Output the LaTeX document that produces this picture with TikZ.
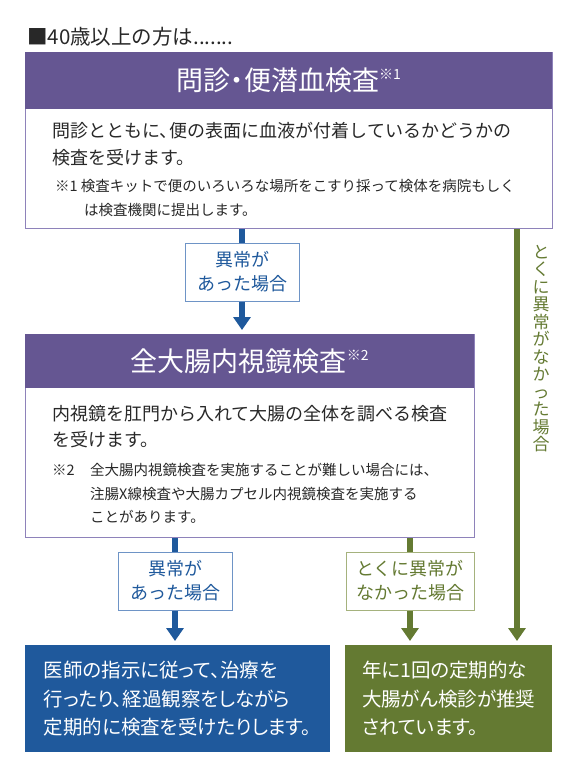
\documentclass[tikz,border=0pt]{standalone}
\usepackage{fontspec}
\setmainfont{Noto Sans CJK JP}
\newfontfamily\proptext[RawFeature=+palt]{Noto Sans CJK JP}
\usetikzlibrary{arrows.meta,positioning}
\definecolor{bandpurple}{RGB}{101,86,146}
\definecolor{framepurple}{RGB}{142,130,186}
\definecolor{flowblue}{RGB}{31,89,156}
\definecolor{flowgreen}{RGB}{100,122,50}
\definecolor{tagblue}{RGB}{110,148,198}
\definecolor{taggreen}{RGB}{165,178,125}
\definecolor{inkgray}{RGB}{40,40,40}
\newcommand\kome[1]{\raisebox{11pt}{\fontsize{14}{14}\selectfont ※#1}}
\newcommand\tenn{、\kern-0.45em}
\newcommand\nakaten{\kern-0.25em・\kern-0.25em}

\begin{document}
\begin{tikzpicture}[x=1pt,y=-1pt,>={Triangle[width=17pt,length=13pt]},
  band/.style={fill=bandpurple,text=white,inner sep=0pt,anchor=north west,font=\fontsize{27}{27}\selectfont},
  panel/.style={draw=framepurple,line width=1pt,fill=white,inner sep=0pt,anchor=north west},
  body/.style={text=inkgray,align=left,anchor=west,inner sep=0pt,font=\fontsize{18}{26.5}\selectfont},
  note/.style={text=inkgray,align=left,anchor=west,inner sep=0pt,font=\fontsize{14.5}{23.5}\selectfont},
  tag/.style={fill=white,line width=1pt,align=center,minimum height=58pt,font=\fontsize{18}{24}\selectfont},
  result/.style={text=white,align=left,inner sep=0pt,anchor=north west,minimum height=107pt,font=\proptext\fontsize{19.5}{28.5}\selectfont},
  link/.style={line width=6pt},
  flow/.style={line width=6pt,->,shorten >=4pt}]
  \useasboundingbox (0,0) rectangle (580,780);
  \node[anchor=west,text=inkgray,inner sep=0pt,font=\fontsize{20.5}{20.5}\selectfont] (lead) at (27,37) {■40歳以上の方は.......};
  % first check
  \node[panel,minimum width=527pt,minimum height=176pt] (p1) at (25,52) {};
  \node[band,minimum width=527pt,minimum height=57pt] (t1) at (25,52) {問診\nakaten 便潜血検査\kome{1}};
  \node[body] (d1) at (52,144) {問診とともに\tenn 便の表面に血液が付着しているかどうかの\\検査を受けます。};
  \node[note] (n1) at (55,198) {※1 検査キットで便のいろいろな場所をこすり採って検体を病院もしく\\\hspace{29pt}は検査機関に提出します。};
  \node[tag,draw=tagblue,text=flowblue,minimum width=114pt] (q1) at (242,272) {異常が\\あった場合};
  % second check
  \node[panel,minimum width=449pt,minimum height=203pt] (p2) at (25,334) {};
  \node[band,minimum width=449pt,minimum height=54pt] (t2) at (25,334) {全大腸内視鏡検査\kome{2}};
  \node[body] (d2) at (52,426.5) {内視鏡を肛門から入れて大腸の全体を調べる検査\\を受けます。};
  \node[note] (m2) at (52,470) {※2};
  \node[note] (n2) at (90,493.5) {全大腸内視鏡検査を実施することが難しい場合には\tenn\\注腸X線検査や大腸カプセル内視鏡検査を実施する\\ことがあります。};
  \node[tag,draw=tagblue,text=flowblue,minimum width=114pt] (q2) at (175,581) {異常が\\あった場合};
  \node[tag,draw=taggreen,text=flowgreen,minimum width=128pt] (q3) at (410,581) {とくに異常が\\なかった場合};
  % outcomes
  \node[result,fill=flowblue,minimum width=305pt] (r1) at (25,645) {医師の指示に従って、治療を\\行ったり、経過観察をしながら\\定期的に検査を受けたりします。};
  \node[result,fill=flowgreen,minimum width=207pt] (r2) at (345,645) {年に1回の定期的な\\大腸がん検診が推奨\\されています。};
  \node[anchor=north,text=flowgreen,align=center,inner sep=0pt,font=\fontsize{17}{17.5}\selectfont] (skiptxt) at (541,245) {と\\く\\に\\異\\常\\が\\な\\か\\っ\\た\\場\\合};
  \coordinate (skip) at (517,0);
  \draw[link,flowblue] (p1.south -| q1.north) -- (q1.north);
  \draw[flow,flowblue] (q1.south) -- (t2.north -| q1.south);
  \draw[link,flowblue] (p2.south -| q2.north) -- (q2.north);
  \draw[flow,flowblue] (q2.south) -- (r1.north -| q2.south);
  \draw[link,flowgreen] (p2.south -| q3.north) -- (q3.north);
  \draw[flow,flowgreen] (q3.south) -- (r2.north -| q3.south);
  \draw[flow,flowgreen] (p1.south -| skip) -- (r2.north -| skip);
\end{tikzpicture}
\end{document}
